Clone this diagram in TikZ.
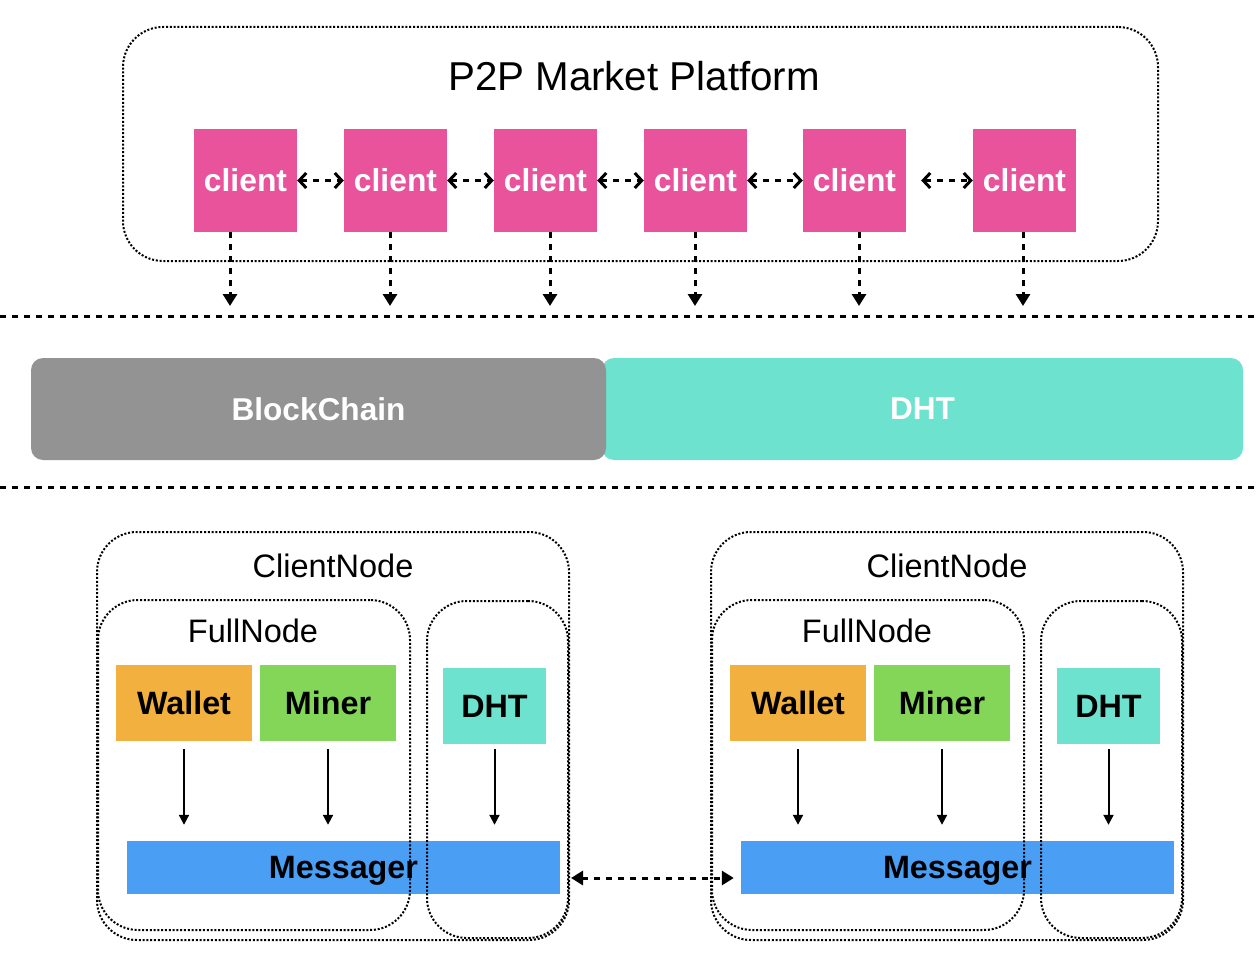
\documentclass[tikz,border=0pt]{standalone}
\usepackage{fontspec}
\setmainfont{Liberation Sans}
\usetikzlibrary{arrows.meta}
\definecolor{clientpink}{HTML}{E8539C}
\definecolor{bcgray}{HTML}{939393}
\definecolor{dhtteal}{HTML}{6CE2CF}
\definecolor{walletorange}{HTML}{F2B13E}
\definecolor{minergreen}{HTML}{84D658}
\definecolor{msgblue}{HTML}{4A9FF5}
\tikzset{
  container/.style={draw, line width=2pt, dash pattern=on 2pt off 1.8pt, rounded corners=40pt, inner sep=0pt},
  clientbox/.style={fill=clientpink, minimum width=103pt, minimum height=103pt, inner sep=0pt, text=white, font=\bfseries\fontsize{31.8}{36}\selectfont},
  layerbox/.style={rounded corners=12pt, minimum height=102pt, inner sep=0pt, text=white, font=\bfseries\fontsize{31.6}{36}\selectfont},
  compbox/.style={minimum height=76pt, inner sep=0pt, text=black, font=\bfseries\fontsize{32.3}{36}\selectfont},
  lbl/.style={inner sep=0pt, font=\fontsize{32.5}{38}\selectfont},
  harrow/.style={line width=3pt, dash pattern=on 6pt off 6pt, {Straight Barb[length=7pt,width=15pt]}-{Straight Barb[length=7pt,width=15pt]}},
  varrow/.style={line width=3pt, dash pattern=on 6pt off 6pt, -{Triangle[length=12pt,width=14pt]}},
  sarrow/.style={line width=2pt, -{Triangle[length=10pt,width=10pt]}},
  darrow/.style={line width=3pt, dash pattern=on 6pt off 6pt, {Triangle[length=12pt,width=14pt]}-{Triangle[length=12pt,width=14pt]}},
  sepline/.style={line width=3pt, dash pattern=on 6pt off 6pt},
}
\begin{document}
\begin{tikzpicture}[x=1pt,y=-1pt]
\useasboundingbox (0,0) rectangle (1260,960);
% platform
\node[container, minimum width=1035pt, minimum height=234pt] (platform) at (640.5,144) {};
\node[inner sep=0pt, font=\fontsize{40.3}{48}\selectfont] (title) at (634,76) {P2P Market Platform};
\node[clientbox] (c1) at (245.5,180.5) {client};
\node[clientbox] (c2) at (395.5,180.5) {client};
\node[clientbox] (c3) at (545.5,180.5) {client};
\node[clientbox] (c4) at (695.5,180.5) {client};
\node[clientbox] (c5) at (854.5,180.5) {client};
\node[clientbox] (c6) at (1024.5,180.5) {client};
\draw[harrow] (c1.east) -- (c2.west);
\draw[harrow] (c2.east) -- (c3.west);
\draw[harrow] (c3.east) -- (c4.west);
\draw[harrow] (c4.east) -- (c5.west);
\draw[harrow] ([xshift=15pt]c5.east) -- (c6.west);
\coordinate (d1) at (230,306);
\coordinate (d2) at (390,306);
\coordinate (d3) at (550,306);
\coordinate (d4) at (695,306);
\coordinate (d5) at (859,306);
\coordinate (d6) at (1023,306);
\foreach \i in {1,...,6}{
  \draw[varrow] (c\i.south -| d\i) -- (d\i);
}
% separators
\coordinate (s1l) at (0,316); \coordinate (s1r) at (1260,316);
\coordinate (s2l) at (0,487); \coordinate (s2r) at (1260,487);
\draw[sepline] (s1l) -- (s1r);
\draw[sepline] (s2l) -- (s2r);
% layers
\node[layerbox, fill=dhtteal, minimum width=641pt] (dhtlayer) at (922.5,409) {DHT};
\node[layerbox, fill=bcgray, minimum width=575pt] (bclayer) at (318.5,409) {BlockChain};
% client nodes
\foreach \s/\o in {L/0,R/614}{
  \node[compbox, fill=walletorange, minimum width=136pt] (w\s) at (184+\o,703) {Wallet};
  \node[compbox, fill=minergreen, minimum width=136pt] (mi\s) at (328+\o,703) {Miner};
  \node[compbox, fill=dhtteal, minimum width=103pt, text depth=-1pt] (dh\s) at (494.5+\o,706) {DHT};
  \node[compbox, fill=msgblue, minimum width=433pt, minimum height=53pt, text depth=0pt] (m\s) at (343.5+\o,867.5) {Messager};
  \node[container, minimum width=472pt, minimum height=408pt] (cn\s) at (333+\o,736) {};
  \node[container, minimum width=312pt, minimum height=330pt] (fn\s) at (254+\o,765) {};
  \node[container, minimum width=141pt, minimum height=337pt] (dc\s) at (497.5+\o,769.5) {};
  \node[lbl] (cnt\s) at (333+\o,566) {ClientNode};
  \node[lbl] (fnt\s) at (253+\o,631) {FullNode};
  \draw[sarrow, shorten <=8pt, shorten >=16pt] (w\s.south) -- (w\s.south |- m\s.north);
  \draw[sarrow, shorten <=8pt, shorten >=16pt] (mi\s.south) -- (mi\s.south |- m\s.north);
  \draw[sarrow, shorten <=5pt, shorten >=16pt] (dh\s.south) -- (dh\s.south |- m\s.north);
}
\coordinate (dy) at (0,878);
\draw[darrow, shorten <=1pt, shorten >=7pt] (cnL.east |- dy) -- (mR.west |- dy);
\end{tikzpicture}
\end{document}
